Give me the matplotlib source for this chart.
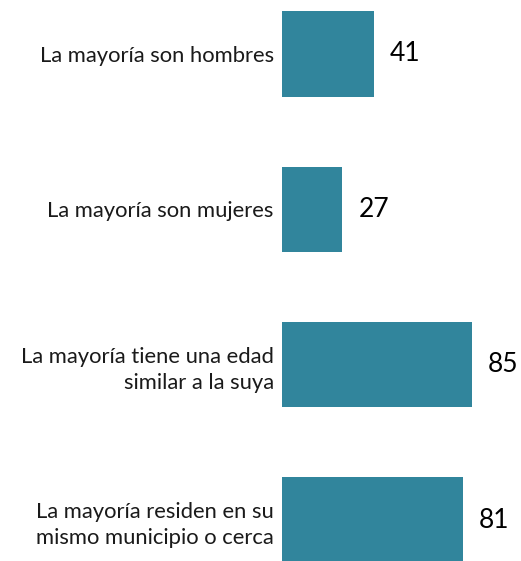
import matplotlib

matplotlib.use("Agg")

import matplotlib.pyplot as plt

# Survey answers (top to bottom) and their percentages.
CATEGORIES = [
    "La mayoría son hombres",
    "La mayoría son mujeres",
    "La mayoría tiene una edad\nsimilar a la suya",
    "La mayoría residen en su\nmismo municipio o cerca",
]
VALUES = [41, 27, 85, 81]

BAR_COLOR = "#31859C"
plt.rcParams["font.family"] = ["Lato", "DejaVu Sans"]

W, H = 521, 561
fig = plt.figure(figsize=(W / 100, H / 100), dpi=100)

# Axes spans from the bar baseline to the right edge, full height.
left_px = 282
ax = fig.add_axes([left_px / W, 0, 1 - left_px / W, 1])

pos = list(range(len(CATEGORIES)))
ax.barh(pos, VALUES, height=0.55, color=BAR_COLOR)

ax.set_xlim(0, (W - left_px) / 2.235)
ax.set_ylim(3 + (H - 520) / 155.5, -54 / 155.5)

ax.set_yticks(pos)
ax.set_yticklabels(CATEGORIES, fontsize=15.8, color="#1a1a1a", linespacing=1.4)
ax.tick_params(axis="y", length=0, pad=6)
ax.set_xticks([])
for s in ax.spines.values():
    s.set_visible(False)

for p, v in zip(pos, VALUES):
    ax.annotate(
        str(v), (v, p), xytext=(11.5, 0), textcoords="offset points",
        va="center", ha="left", fontsize=19, color="black",
    )

fig.savefig("out.png", dpi=100)
